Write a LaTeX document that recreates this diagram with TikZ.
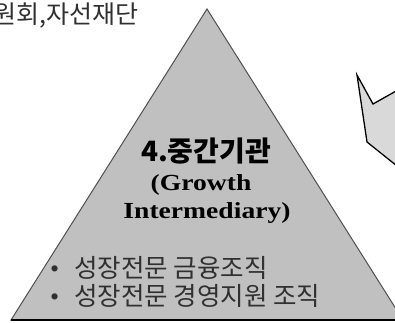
\documentclass[tikz,border=0pt]{standalone}
\usepackage{fontspec}
\newfontfamily\kr{Noto Sans CJK KR}
\newfontfamily\lat{Liberation Serif}[FakeStretch=1.2]
\newfontfamily\bul{Liberation Serif}
\definecolor{trifill}{HTML}{C0C0C0}
\definecolor{triline}{HTML}{505050}
\definecolor{penfill}{HTML}{D9D9D9}
\definecolor{txtgray}{HTML}{303030}
\tikzset{
  lbl/.style={inner sep=0pt, outer sep=0pt},
  tri/.style={fill=trifill, draw=triline, line width=1pt, line join=miter},
  pent/.style={fill=penfill, draw=black, line width=1.3pt, line join=miter},
}
\begin{document}
\begin{tikzpicture}[x=1pt,y=-1pt]
\useasboundingbox (0,0) rectangle (395,322);
\fill[white] (0,0) rectangle (395,322);
% triangle
\coordinate (apex) at (207,9);
\coordinate (bl) at (11,320);
\coordinate (br) at (403,320);
\draw[tri] (apex) -- (br) -- (bl) -- cycle;
\draw[black, line width=1.6pt] (bl) -- (br);
% pentagon arrow (clipped at right)
\coordinate (p1) at (357,75);
\coordinate (p2) at (373,104);
\coordinate (p3) at (412,82);
\coordinate (p4) at (412,178);
\coordinate (p5) at (367,142);
\draw[pent] (p1) -- (p2) -- (p3) -- (p4) -- (p5) -- cycle;
% texts
\node[lbl, anchor=base east, text=txtgray] (top) at (138,23) {\kr\fontsize{25}{25}\selectfont 위원회,자선재단};
\node[lbl, anchor=base] (title) at (206,161) {\kr\bfseries\fontsize{28}{28}\selectfont 4.중간기관};
\node[lbl, anchor=base] (en1) at (201,190) {\lat\bfseries\fontsize{23}{23}\selectfont (Growth};
\node[lbl, anchor=base] (en2) at (207,218) {\lat\bfseries\fontsize{23}{23}\selectfont Intermediary)};
\node[lbl, anchor=base west, text=txtgray] (b1) at (50,277) {{\bul\fontsize{26}{26}\selectfont •}\hspace{15pt}{\kr\fontsize{25.5}{25.5}\selectfont 성장전문 금융조직}};
\node[lbl, anchor=base west, text=txtgray] (b2) at (50,305) {{\bul\fontsize{26}{26}\selectfont •}\hspace{15pt}{\kr\fontsize{25.5}{25.5}\selectfont 성장전문 경영지원 조직}};
\end{tikzpicture}
\end{document}
